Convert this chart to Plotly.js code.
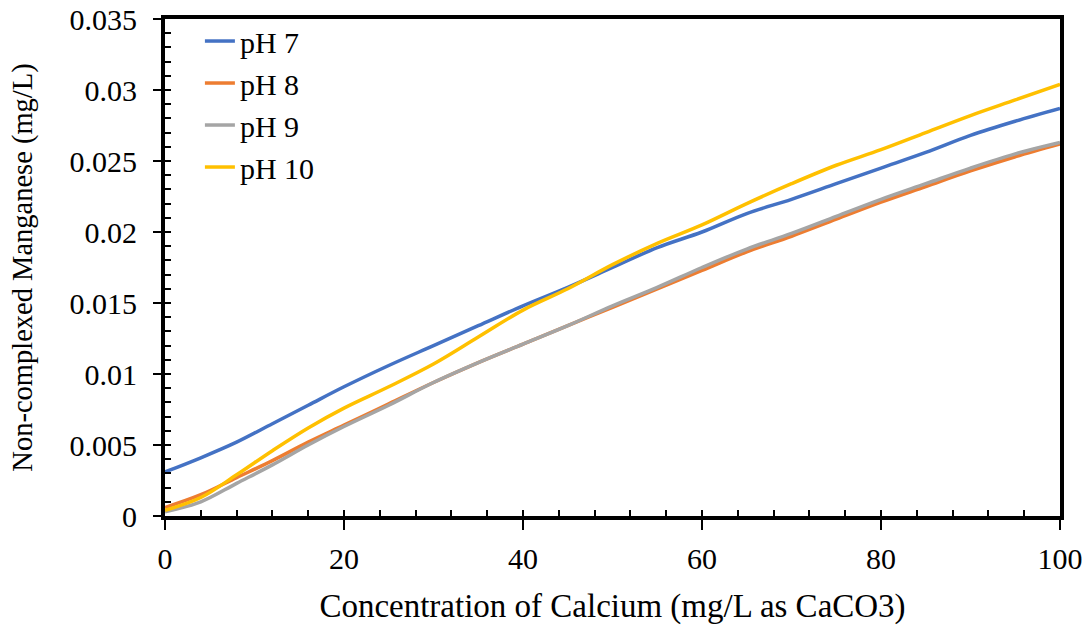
<!DOCTYPE html>
<html>
<head>
<meta charset="utf-8">
<script src="https://cdn.plot.ly/plotly-3.0.1.min.js"></script>
<style>html,body{margin:0;padding:0;background:#fff;}#chart{width:1087px;height:628px;}</style>
</head>
<body>
<div id="chart"></div>
<script>
const calcium = [0, 4, 8, 12, 16, 20, 25, 30, 35, 40, 45, 50, 55, 60, 65, 70, 75, 80, 85, 90, 95, 100];
const ph7  = [0.0031, 0.0041, 0.0052, 0.0065, 0.0078, 0.0091, 0.0106, 0.0120, 0.0134, 0.0148, 0.0161, 0.0175, 0.0189, 0.0200, 0.0213, 0.0223, 0.0234, 0.0245, 0.0256, 0.0268, 0.0278, 0.0287];
const ph8  = [0.0006, 0.0015, 0.0027, 0.0039, 0.0052, 0.0064, 0.0079, 0.0094, 0.0108, 0.0121, 0.0134, 0.0147, 0.0160, 0.0173, 0.0186, 0.0197, 0.0209, 0.0221, 0.0232, 0.0243, 0.0253, 0.0262];
const ph9  = [0.0003, 0.0010, 0.0023, 0.0036, 0.0050, 0.0063, 0.0078, 0.0094, 0.0108, 0.0121, 0.0134, 0.0148, 0.0161, 0.0175, 0.0188, 0.0199, 0.0211, 0.0223, 0.0234, 0.0245, 0.0255, 0.0263];
const ph10 = [0.0004, 0.0013, 0.0029, 0.0046, 0.0062, 0.0076, 0.0091, 0.0107, 0.0126, 0.0145, 0.0160, 0.0177, 0.0192, 0.0205, 0.0220, 0.0234, 0.0247, 0.0258, 0.0270, 0.0282, 0.0293, 0.0304];
const seriesNames = ['pH 7', 'pH 8', 'pH 9', 'pH 10'];
const seriesColors = ['#4472C4', '#ED7D31', '#A5A5A5', '#FFC000'];
const seriesValues = [ph7, ph8, ph9, ph10];
const yTickVals = [0, 0.005, 0.01, 0.015, 0.02, 0.025, 0.03, 0.035];
const yTickText = ['0', '0.005', '0.01', '0.015', '0.02', '0.025', '0.03', '0.035'];

const FONT = 'Liberation Serif, Times New Roman, serif';

const traces = seriesValues.map((v, i) => ({
  x: calcium, y: v, name: seriesNames[i], type: 'scatter', mode: 'lines',
  line: {color: seriesColors[i], width: 3.5, shape: 'spline', smoothing: 1.0},
  legendgroup: 'g' + i
}));
// dummy trace for the overlaid inside-tick axes
traces.push({x: [0], y: [0], xaxis: 'x2', yaxis: 'y2', mode: 'markers', marker: {opacity: 0}, showlegend: false, hoverinfo: 'skip'});

const layout = {
  width: 1087, height: 628,
  margin: {l: 165, r: 27, t: 19, b: 112},
  paper_bgcolor: '#fff', plot_bgcolor: '#fff',
  font: {family: FONT, size: 30, color: '#000'},
  showlegend: true,
  legend: {x: 0.039, y: 1.008, xanchor: 'left', yanchor: 'top', bgcolor: 'rgba(0,0,0,0)',
           font: {family: FONT, size: 30, color: '#000'}, tracegroupgap: 0, itemwidth: 30},
  xaxis: {
    range: [0, 100], dtick: 20, tick0: 0,
    showline: true, linecolor: '#000', linewidth: 4, mirror: true,
    ticks: 'outside', ticklen: 10, tickwidth: 2, tickcolor: '#000',
    showgrid: false, zeroline: false, ticklabelstandoff: 3,
    title: {text: 'Concentration of Calcium (mg/L as CaCO3)', font: {family: FONT, size: 33}, standoff: 21},
    tickfont: {family: FONT, size: 30}
  },
  yaxis: {
    range: [0, 0.035], tickvals: yTickVals, ticktext: yTickText,
    showline: true, linecolor: '#000', linewidth: 4, mirror: true,
    ticks: 'outside', ticklen: 8, tickwidth: 2, tickcolor: '#000',
    showgrid: false, zeroline: false, ticklabelstandoff: 10,
    title: {text: 'Non-complexed Manganese (mg/L)', font: {family: FONT, size: 28.5}, standoff: 30},
    tickfont: {family: FONT, size: 30}
  },
  xaxis2: {overlaying: 'x', range: [0, 100], dtick: 4, tick0: 0, ticks: 'inside', ticklen: 6, tickwidth: 2, tickcolor: '#000',
           showticklabels: false, showgrid: false, zeroline: false, showline: false, anchor: 'y2', side: 'bottom'},
  yaxis2: {overlaying: 'y', range: [0, 0.035], dtick: 0.001, tick0: 0, ticks: 'inside', ticklen: 6, tickwidth: 2, tickcolor: '#000',
           showticklabels: false, showgrid: false, zeroline: false, showline: false, anchor: 'x2', side: 'left'}
};

Plotly.newPlot('chart', traces, layout, {displayModeBar: false, staticPlot: true});
</script>
</body>
</html>
